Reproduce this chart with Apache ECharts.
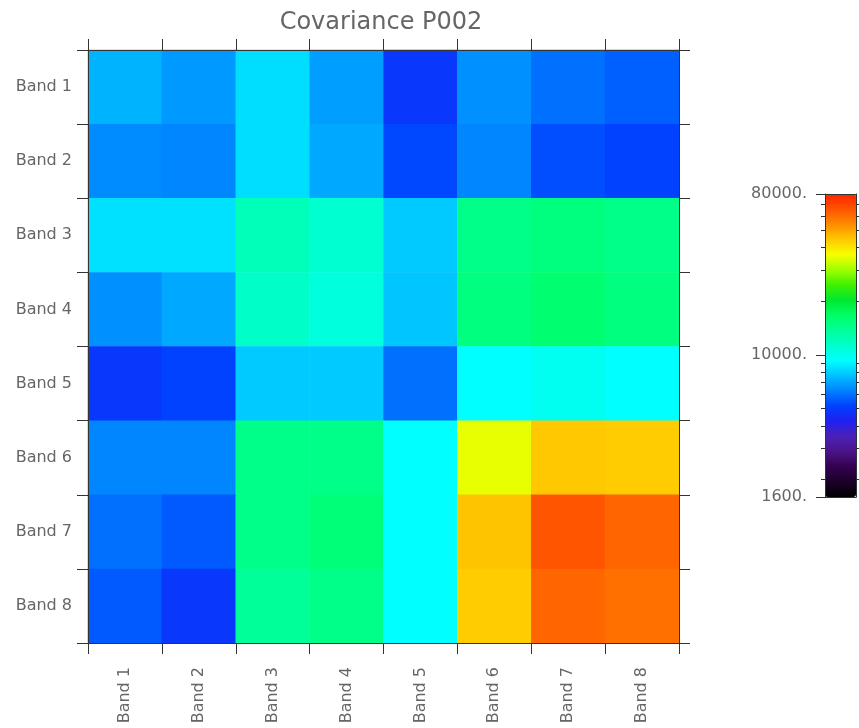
<!DOCTYPE html>
<html><head><meta charset="utf-8">
<script src="https://cdn.jsdelivr.net/npm/echarts@6/dist/echarts.min.js"></script>
<style>html,body{margin:0;padding:0;background:#fff}#c{width:859px;height:728px}</style>
</head><body><div id="c"></div>
<script>
// Categories
const bands = ['Band 1', 'Band 2', 'Band 3', 'Band 4', 'Band 5', 'Band 6', 'Band 7', 'Band 8'];

// Covariance values, one array per row (Band 1 at top)
const band1 = [7350, 6800, 8400, 6900, 4900, 6600, 6000, 5700];
const band2 = [6500, 6400, 8400, 7100, 5300, 6400, 5400, 5200];
const band3 = [8450, 8450, 12200, 11100, 7900, 14700, 15200, 14700];
const band4 = [6600, 7100, 11500, 10600, 7800, 15200, 16100, 15200];
const band5 = [4900, 5200, 7900, 7900, 6000, 9300, 9850, 9300];
const band6 = [6400, 6400, 14700, 14700, 9300, 35200, 44500, 43800];
const band7 = [6000, 5600, 14700, 15600, 9300, 45000, 65500, 61800];
const band8 = [5600, 4900, 13800, 14700, 9300, 43800, 61800, 59700];

// Colour bar (log scale)
const colorMin = 1600;
const colorMax = 80000;
const colorbarLabels = [1600, 10000, 80000];
const colorbarMinorTicks = [2000, 3000, 4000, 5000, 6000, 7000, 8000, 9000,
                            20000, 30000, 40000, 50000, 60000, 70000];
const rainbow = ['#000000', '#1a0028', '#340050', '#4a1488', '#4a20b8', '#2020f0',
                 '#0040ff', '#0080ff', '#00c0ff', '#00ffff', '#00ffcc', '#00ff99',
                 '#00ff66', '#00e830', '#40f000', '#a0ff00', '#f8ff00', '#ffc800',
                 '#ff8c00', '#ff5400', '#ff2400'];

const rows = [band1, band2, band3, band4, band5, band6, band7, band8];
const data = [];
rows.forEach((row, r) => row.forEach((v, c) => data.push([c, r, v, Math.log10(v)])));

const L = Math.log10;
const lineCol = '#333';
const txtCol = '#666';
const font = 'DejaVu Sans';

function catAxis(pos, labels) {
  return {
    type: 'category', gridIndex: 0, position: pos, data: bands, z: 10,
    inverse: (pos === 'left' || pos === 'right'),
    axisLine: {show: true, onZero: false, lineStyle: {color: lineCol, width: 1}},
    axisTick: {show: true, inside: false, length: 11, alignWithLabel: false, interval: 0,
               lineStyle: {color: lineCol, width: 1}},
    axisLabel: labels ? Object.assign({show: true, interval: 0, fontFamily: font, fontSize: 16, color: txtCol}, labels)
                      : {show: false},
    splitLine: {show: false}, splitArea: {show: false}
  };
}

const chart = echarts.init(document.getElementById('c'), null, {renderer: 'canvas'});
chart.setOption({
  animation: false,
  backgroundColor: '#fff',
  title: {
    text: 'Covariance P002',
    left: 376, top: 6, textAlign: 'center',
    textStyle: {fontFamily: font, fontSize: 24, fontWeight: 'normal', color: txtCol}
  },
  grid: [
    {left: 88, top: 50, width: 591, height: 593},
    {left: 825, top: 194, width: 31, height: 303}
  ],
  xAxis: [
    catAxis('bottom', {rotate: 90, margin: 24}),
    catAxis('top', null),
    {type: 'value', gridIndex: 1, position: 'bottom', min: 0, max: 1, z: 10,
     axisLine: {show: true, onZero: false, lineStyle: {color: lineCol}}, axisTick: {show: false},
     axisLabel: {show: false}, splitLine: {show: false}},
    {type: 'value', gridIndex: 1, position: 'top', min: 0, max: 1, z: 10,
     axisLine: {show: true, onZero: false, lineStyle: {color: lineCol}}, axisTick: {show: false},
     axisLabel: {show: false}, splitLine: {show: false}}
  ],
  yAxis: [
    catAxis('left', {margin: 16}),
    catAxis('right', null),
    {type: 'value', gridIndex: 1, position: 'left', min: L(colorMin), max: L(colorMax), z: 10,
     axisLine: {show: true, onZero: false, lineStyle: {color: lineCol}},
     axisTick: {show: true, length: 4, customValues: colorbarMinorTicks.map(L), lineStyle: {color: lineCol}},
     axisLabel: {show: true, customValues: colorbarLabels.map(L), margin: 18,
                 fontFamily: font, fontSize: 16, color: txtCol,
                 formatter: v => Math.round(Math.pow(10, v)) + '.'},
     splitLine: {show: false}},
    {type: 'value', gridIndex: 1, position: 'left', min: L(colorMin), max: L(colorMax), z: 10,
     axisLine: {show: false},
     axisTick: {show: true, length: 9, customValues: colorbarLabels.map(L), lineStyle: {color: lineCol}},
     axisLabel: {show: false}, splitLine: {show: false}},
    {type: 'value', gridIndex: 1, position: 'right', min: L(colorMin), max: L(colorMax), z: 10,
     axisLine: {show: true, onZero: false, lineStyle: {color: lineCol}},
     axisTick: {show: true, length: 3, customValues: colorbarMinorTicks.map(L), lineStyle: {color: lineCol}},
     axisLabel: {show: false}, splitLine: {show: false}}
  ],
  visualMap: {
    type: 'continuous', seriesIndex: 0, dimension: 3,
    min: L(colorMin), max: L(colorMax),
    calculable: false, hoverLink: false, show: true,
    orient: 'vertical', left: 825, top: 194, padding: 0,
    itemWidth: 31, itemHeight: 303,
    inRange: {color: rainbow}
  },
  series: [{
    type: 'heatmap', xAxisIndex: 0, yAxisIndex: 0,
    data: data,
    itemStyle: {borderWidth: 0},
    emphasis: {disabled: true}
  }]
});
</script></body></html>
